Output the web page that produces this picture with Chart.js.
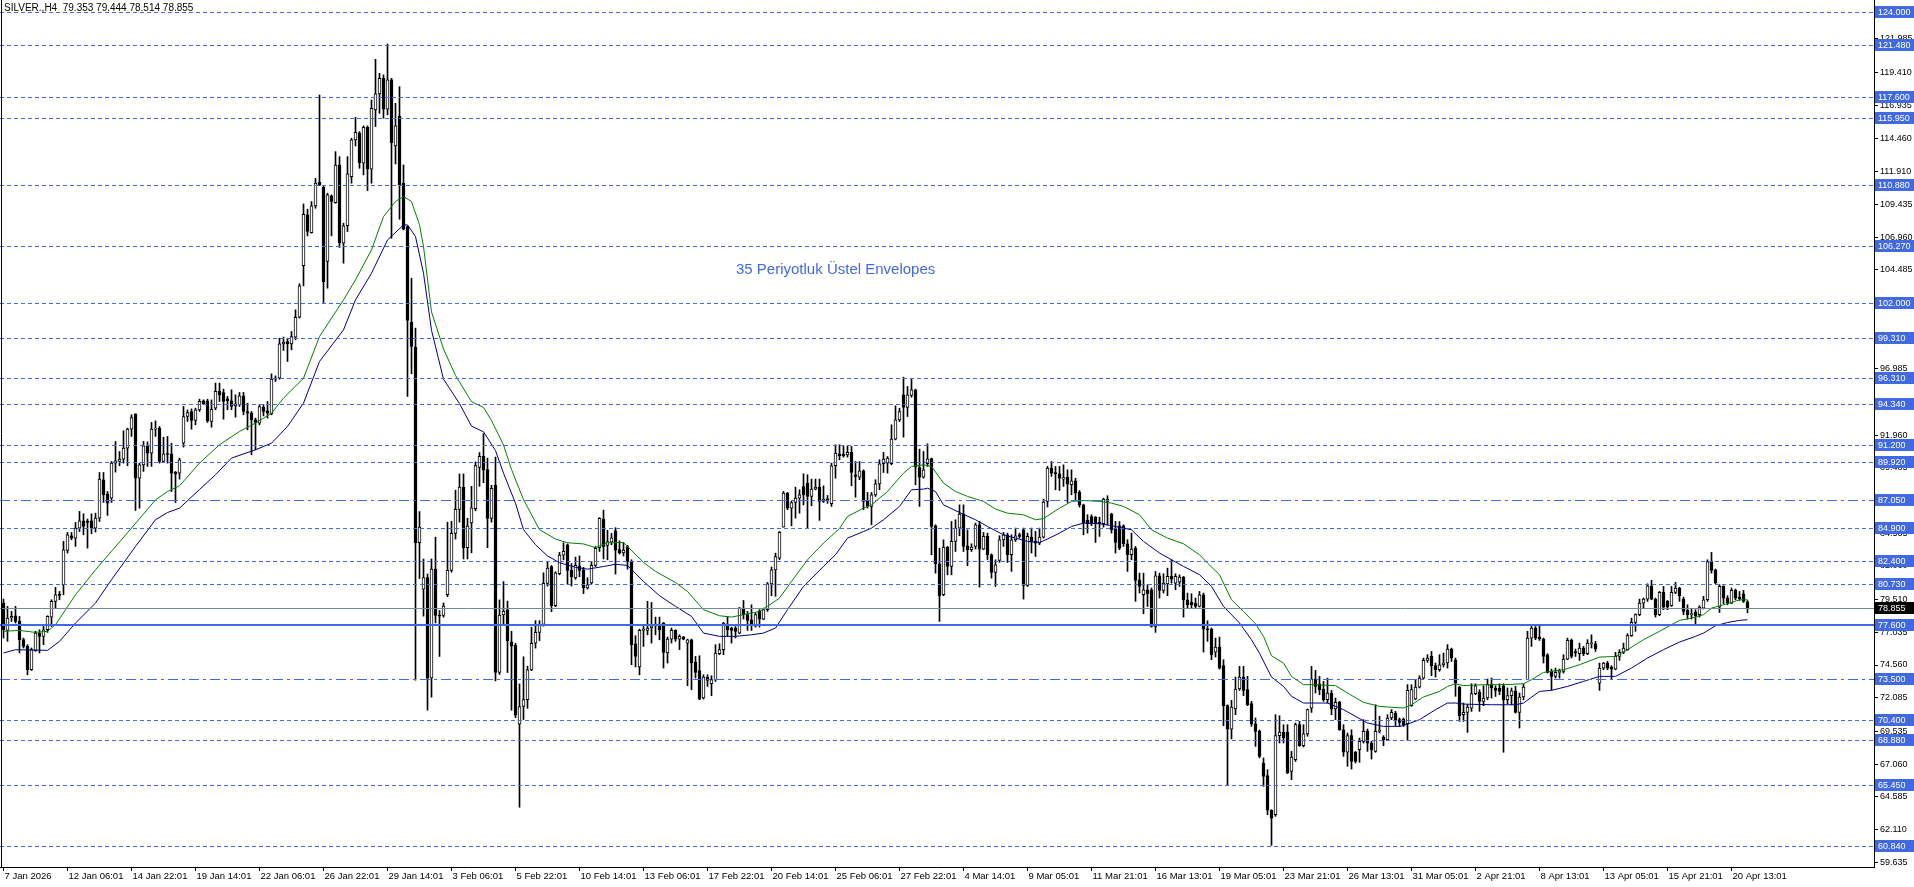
<!DOCTYPE html>
<html>
<head>
<meta charset="utf-8">
<title>SILVER., H4</title>
<script src="https://cdn.jsdelivr.net/npm/chart.js@4.4.1/dist/chart.umd.min.js"></script>
<style>
html, body { margin: 0; padding: 0; background: #ffffff; overflow: hidden; }
canvas { display: block; }
</style>
</head>
<body>
<canvas id="myChart" width="1914" height="887"></canvas>
<script>
// Candle data, H4 bars, index 0 = 7 Jan 2026

var Opens = [
	79.25, 77.18, 78.12, 78.29, 77.86, 76.48, 75.97, 74.20, 75.67, 76.98,
	76.73, 77.23, 78.19, 79.38, 79.93, 80.64, 83.24, 84.35, 84.17, 84.93,
	85.48, 85.43, 85.48, 84.93, 85.68, 88.59, 87.53, 87.20, 89.85, 89.97,
	90.15, 90.98, 92.42, 93.58, 88.71, 89.72, 91.16, 90.60, 92.42, 92.50,
	89.97, 90.55, 90.55, 89.17, 89.09, 91.36, 93.38, 93.76, 93.08, 93.88,
	94.57, 94.57, 93.00, 94.01, 95.28, 95.20, 94.72, 94.57, 94.19, 94.27,
	94.95, 93.76, 93.63, 93.13, 92.88, 94.09, 93.81, 93.58, 96.21, 96.28,
	98.88, 99.06, 98.88, 99.39, 100.90, 104.81, 108.65, 107.31, 109.33, 111.12,
	110.74, 105.12, 110.09, 109.58, 112.43, 106.50, 107.84, 111.55, 114.33, 114.83,
	112.56, 115.28, 112.11, 116.60, 117.81, 118.99, 116.65, 118.87, 113.87, 116.14,
	111.05, 107.77, 100.52, 98.63, 83.82, 80.31, 81.19, 73.56, 81.82, 78.35,
	78.32, 79.88, 81.73, 84.53, 86.35, 88.03, 83.45, 85.33, 86.40, 89.52,
	90.37, 89.37, 85.67, 88.17, 73.99, 78.35, 78.74, 76.32, 76.07, 70.08,
	71.42, 71.94, 74.19, 76.21, 77.03, 77.63, 80.74, 82.02, 79.06, 81.48,
	82.88, 83.67, 81.73, 81.16, 82.05, 81.76, 80.40, 80.77, 82.11, 83.45,
	85.61, 83.62, 83.87, 84.73, 83.30, 83.05, 83.53, 82.41, 76.17, 74.41,
	77.18, 77.18, 77.36, 77.53, 77.66, 77.74, 75.47, 76.52, 77.18, 76.52,
	76.68, 76.22, 76.47, 74.76, 74.13, 72.06, 73.65, 73.14, 73.45, 75.42,
	75.72, 77.66, 77.36, 77.36, 76.98, 78.87, 78.37, 77.99, 77.61, 78.67,
	78.04, 78.75, 80.71, 81.77, 82.66, 85.00, 87.58, 86.44, 86.87, 87.20,
	88.08, 88.33, 87.33, 87.88, 88.03, 86.95, 87.12, 86.77, 89.65, 90.55,
	90.53, 90.48, 90.66, 88.97, 88.79, 89.27, 86.97, 86.57, 87.45, 88.28,
	89.80, 89.85, 89.80, 91.67, 93.13, 95.02, 94.06, 94.97, 95.40, 89.52,
	88.79, 89.80, 90.20, 85.10, 82.23, 79.88, 83.49, 82.03, 83.92, 84.93,
	85.99, 83.59, 83.29, 83.54, 85.18, 83.34, 84.30, 82.91, 81.57, 82.48,
	84.04, 84.42, 82.91, 84.04, 84.42, 84.80, 80.59, 84.25, 83.92, 83.79,
	84.25, 86.95, 89.47, 89.14, 89.04, 88.64, 88.79, 88.21, 88.51, 87.63,
	86.69, 85.51, 85.81, 85.76, 85.36, 85.26, 86.95, 85.99, 84.85, 85.11,
	85.11, 83.74, 82.91, 83.41, 81.02, 79.88, 80.26, 80.26, 77.49, 81.32,
	80.21, 80.71, 81.27, 80.76, 80.84, 81.22, 79.50, 79.30, 79.25, 79.00,
	79.88, 77.28, 77.28, 75.54, 75.92, 74.51, 71.48, 69.71, 71.23, 72.74,
	73.65, 72.69, 71.63, 70.11, 69.54, 67.14, 66.18, 63.56, 63.22, 69.21,
	69.49, 69.49, 66.51, 67.39, 70.04, 68.45, 69.34, 71.30, 73.50, 73.14,
	72.74, 71.93, 72.44, 71.23, 71.73, 69.66, 67.95, 69.21, 67.95, 68.15,
	68.78, 69.53, 68.65, 68.02, 69.53, 69.11, 68.91, 70.55, 70.92, 70.42,
	70.47, 70.12, 71.48, 71.98, 72.89, 73.57, 74.91, 75.21, 74.51, 74.20,
	74.58, 74.71, 75.77, 74.91, 72.89, 70.80, 70.97, 71.30, 72.39, 72.49,
	71.81, 72.06, 73.07, 72.82, 72.82, 72.99, 71.93, 72.24, 72.61, 70.97,
	72.14, 73.45, 76.60, 77.36, 76.68, 76.53, 75.34, 74.08, 73.70, 74.00,
	74.08, 75.01, 76.42, 75.57, 75.42, 75.85, 75.42, 76.17, 76.17, 73.19,
	74.33, 74.71, 74.41, 74.25, 75.21, 75.52, 75.72, 76.78, 77.79, 78.37,
	79.25, 79.55, 80.56, 79.55, 78.37, 80.06, 79.38, 79.05, 80.06, 80.39,
	79.55, 78.70, 78.37, 78.57, 78.37, 78.87, 79.50, 82.40, 81.77, 78.95,
	80.51, 79.63, 79.25, 80.21, 79.70, 79.96, 79.353
];

var Highs = [
	79.55, 79.00, 78.62, 79.00, 78.24, 76.60, 76.10, 75.85, 77.11, 77.23,
	77.48, 78.29, 79.50, 80.44, 80.13, 83.92, 84.60, 84.60, 85.36, 86.19,
	86.01, 85.61, 86.01, 86.06, 89.14, 89.14, 87.70, 89.97, 91.49, 90.73,
	92.30, 92.50, 93.51, 93.58, 89.85, 91.49, 91.46, 92.93, 93.05, 92.62,
	91.82, 91.87, 91.36, 89.22, 90.22, 94.14, 93.88, 93.96, 94.01, 94.69,
	94.64, 94.69, 94.64, 95.91, 95.91, 95.45, 94.90, 95.40, 95.02, 95.20,
	95.20, 94.39, 93.76, 93.26, 94.27, 94.27, 94.52, 96.61, 96.46, 99.31,
	99.39, 99.31, 99.82, 101.46, 103.43, 109.48, 109.08, 109.66, 111.42, 117.73,
	110.84, 110.29, 110.16, 113.44, 113.06, 108.02, 113.06, 114.45, 116.04, 114.96,
	115.39, 115.39, 117.35, 120.43, 119.37, 119.25, 121.59, 118.99, 117.10, 118.36,
	112.43, 107.82, 103.85, 100.07, 86.18, 82.59, 81.45, 82.59, 84.24, 78.69,
	79.26, 85.38, 85.44, 87.80, 89.03, 89.03, 85.67, 88.09, 89.94, 90.65,
	92.08, 90.23, 88.17, 90.31, 79.49, 80.88, 79.40, 77.12, 76.21, 73.13,
	75.18, 74.47, 77.41, 77.92, 77.92, 81.54, 82.39, 82.10, 81.62, 83.10,
	83.82, 83.73, 82.25, 82.73, 82.82, 81.96, 81.17, 82.39, 83.53, 85.72,
	86.29, 84.76, 84.53, 84.96, 83.96, 83.82, 83.62, 82.53, 76.78, 77.28,
	77.48, 79.38, 79.30, 78.19, 78.19, 77.79, 76.68, 77.36, 77.23, 76.85,
	76.73, 76.52, 76.52, 75.21, 75.26, 73.82, 73.82, 73.75, 76.10, 76.17,
	77.79, 78.24, 77.43, 77.48, 78.92, 79.45, 78.62, 79.12, 78.50, 78.75,
	78.87, 80.81, 81.98, 83.03, 84.67, 87.70, 87.63, 86.95, 88.03, 87.83,
	89.04, 88.97, 88.64, 88.64, 88.64, 88.13, 87.40, 89.85, 91.24, 91.24,
	91.16, 91.16, 91.11, 89.97, 89.97, 89.34, 87.63, 87.63, 88.59, 90.10,
	90.66, 90.35, 92.75, 94.19, 94.01, 96.36, 95.65, 96.21, 95.45, 90.91,
	90.73, 91.31, 90.23, 85.18, 83.41, 84.04, 83.54, 85.43, 85.56, 86.69,
	86.69, 84.80, 83.74, 85.31, 85.43, 84.60, 84.55, 82.98, 82.53, 84.35,
	84.60, 84.55, 84.42, 84.93, 84.55, 84.93, 84.55, 84.93, 84.68, 84.93,
	87.12, 89.60, 89.97, 89.60, 89.60, 89.72, 89.34, 89.34, 88.71, 87.78,
	86.74, 85.94, 85.94, 85.81, 85.76, 87.20, 87.38, 86.06, 85.43, 85.43,
	85.18, 84.05, 84.55, 83.54, 81.52, 81.52, 80.64, 80.39, 81.65, 81.52,
	81.47, 81.90, 82.53, 81.47, 81.39, 81.27, 80.01, 79.96, 79.63, 80.13,
	80.01, 77.91, 77.36, 76.60, 76.68, 74.96, 71.55, 71.88, 73.65, 74.46,
	74.46, 73.70, 71.81, 70.55, 69.64, 67.52, 66.63, 63.60, 70.80, 70.72,
	70.04, 70.04, 68.02, 70.17, 70.29, 70.04, 71.23, 74.46, 74.15, 73.70,
	73.32, 73.57, 72.64, 72.06, 71.81, 70.04, 69.41, 69.66, 68.02, 69.03,
	70.42, 69.71, 68.78, 71.55, 70.67, 69.21, 70.80, 71.18, 71.05, 70.55,
	70.55, 73.07, 73.07, 73.45, 73.75, 75.09, 75.34, 75.59, 74.71, 75.34,
	75.47, 76.10, 75.84, 75.09, 72.94, 71.68, 71.55, 73.14, 73.14, 72.69,
	72.99, 73.50, 73.57, 72.99, 73.14, 73.14, 72.82, 72.82, 72.94, 72.44,
	73.14, 77.11, 77.48, 77.48, 77.54, 76.60, 75.42, 74.25, 74.33, 74.25,
	75.34, 76.60, 76.53, 75.77, 76.22, 75.97, 76.48, 76.85, 76.35, 74.71,
	74.76, 74.84, 74.51, 75.52, 75.72, 76.22, 76.93, 78.11, 78.44, 79.55,
	79.63, 80.71, 80.97, 79.63, 80.13, 80.51, 79.45, 80.51, 80.82, 80.45,
	79.70, 79.12, 78.80, 78.75, 79.05, 79.76, 82.53, 83.09, 81.83, 80.64,
	80.56, 79.81, 80.39, 80.31, 80.13, 80.21, 79.444
];

var Lows = [
	76.60, 76.35, 77.86, 77.74, 75.47, 75.85, 73.82, 74.15, 75.59, 75.47,
	76.10, 77.03, 77.48, 78.87, 79.50, 79.88, 83.04, 84.04, 83.54, 84.67,
	84.42, 83.41, 84.50, 84.63, 85.43, 86.87, 85.89, 86.87, 89.17, 89.65,
	89.85, 89.65, 91.87, 86.26, 86.44, 89.22, 89.60, 89.60, 91.87, 89.85,
	89.90, 89.85, 87.70, 86.87, 88.64, 91.06, 93.00, 92.42, 92.75, 93.76,
	94.27, 92.93, 92.57, 93.89, 94.52, 93.18, 93.89, 93.89, 93.33, 94.14,
	93.51, 92.37, 90.48, 90.86, 92.75, 93.43, 93.26, 93.51, 96.03, 96.21,
	98.38, 97.55, 98.43, 99.19, 100.83, 103.27, 107.06, 107.26, 109.15, 110.87,
	102.01, 103.10, 107.06, 109.53, 106.18, 104.99, 107.39, 111.05, 113.87, 112.18,
	111.68, 110.49, 111.05, 115.34, 116.34, 115.97, 116.22, 106.88, 112.51, 108.32,
	107.51, 94.90, 96.61, 73.42, 81.11, 78.26, 71.14, 72.13, 77.75, 75.21,
	78.18, 79.74, 81.59, 84.10, 85.38, 82.59, 82.59, 83.05, 86.24, 88.09,
	88.37, 83.45, 85.38, 73.36, 73.84, 77.55, 73.99, 71.14, 70.57, 63.79,
	70.43, 71.28, 74.13, 75.84, 76.41, 77.50, 80.54, 78.60, 78.97, 81.39,
	82.53, 80.68, 80.54, 81.05, 81.25, 79.97, 80.31, 80.68, 82.02, 83.16,
	82.59, 82.53, 83.67, 81.45, 82.96, 82.82, 81.82, 74.58, 74.41, 73.82,
	75.97, 76.85, 76.22, 76.85, 76.47, 74.33, 74.71, 76.22, 76.35, 75.72,
	76.47, 72.99, 72.69, 73.57, 71.93, 71.98, 72.94, 72.24, 73.32, 75.34,
	75.34, 76.73, 76.22, 76.61, 76.93, 78.04, 77.18, 77.18, 77.43, 77.43,
	77.99, 78.62, 79.81, 79.76, 82.53, 85.00, 86.32, 85.10, 85.69, 86.06,
	86.69, 84.93, 86.62, 87.83, 85.51, 86.87, 86.80, 86.57, 88.71, 90.10,
	90.30, 90.30, 88.13, 87.27, 88.59, 86.32, 86.44, 85.18, 87.33, 87.83,
	89.14, 89.09, 89.72, 91.61, 93.00, 91.82, 93.38, 94.84, 88.21, 86.57,
	88.71, 89.60, 82.91, 81.52, 77.86, 79.80, 81.39, 81.39, 83.16, 84.35,
	83.16, 82.08, 83.16, 83.34, 80.46, 83.29, 82.53, 81.14, 80.51, 82.33,
	83.54, 82.33, 81.65, 83.92, 84.17, 79.55, 80.51, 83.04, 82.78, 83.67,
	84.17, 86.52, 88.84, 87.83, 87.78, 88.08, 86.87, 87.45, 87.02, 86.52,
	84.42, 84.55, 85.11, 83.84, 84.30, 85.00, 85.18, 84.55, 83.04, 83.29,
	83.54, 81.65, 82.53, 79.38, 80.01, 78.44, 79.00, 77.43, 77.03, 79.63,
	80.01, 79.81, 80.76, 80.26, 80.51, 78.19, 78.87, 78.87, 78.87, 78.95,
	75.54, 76.35, 74.96, 75.16, 74.25, 69.96, 65.42, 68.96, 70.80, 72.64,
	72.24, 71.48, 69.91, 68.40, 67.52, 65.37, 63.22, 60.90, 63.10, 68.65,
	68.65, 66.33, 65.88, 67.26, 68.40, 68.35, 69.16, 70.97, 72.44, 72.31,
	71.81, 71.68, 70.80, 70.42, 69.61, 67.64, 66.89, 66.68, 67.14, 67.19,
	68.65, 68.02, 67.44, 67.95, 69.41, 68.45, 68.85, 70.42, 69.97, 69.91,
	69.91, 68.85, 71.43, 71.93, 72.82, 73.50, 74.76, 73.75, 73.65, 74.08,
	74.41, 74.33, 74.83, 72.19, 70.29, 70.29, 69.46, 71.05, 72.31, 71.05,
	71.48, 71.93, 72.06, 72.18, 72.31, 67.95, 71.63, 71.55, 70.92, 69.79,
	71.93, 73.45, 75.97, 76.48, 76.42, 74.71, 73.95, 72.69, 73.57, 73.57,
	73.95, 74.96, 75.09, 75.21, 74.91, 75.27, 75.34, 75.85, 75.59, 72.64,
	74.20, 74.20, 73.50, 74.20, 74.91, 75.42, 75.67, 76.73, 77.11, 78.29,
	78.87, 79.38, 79.50, 78.19, 78.29, 78.75, 78.75, 79.00, 79.96, 79.38,
	78.37, 78.04, 78.04, 77.61, 78.19, 78.80, 79.38, 81.52, 80.72, 78.54,
	79.20, 79.12, 79.20, 79.50, 79.45, 79.30, 78.514
];

var Closes = [
	77.23, 78.12, 78.24, 77.86, 76.48, 75.97, 74.20, 75.72, 76.98, 76.73,
	77.23, 78.24, 79.38, 79.88, 79.83, 83.29, 84.42, 84.17, 84.93, 85.48,
	85.05, 85.36, 84.93, 85.68, 88.64, 87.45, 86.82, 89.85, 90.02, 90.15,
	90.98, 92.42, 93.30, 88.71, 89.72, 91.16, 90.60, 92.42, 92.50, 89.97,
	90.55, 90.50, 89.09, 89.02, 90.10, 93.38, 93.68, 93.08, 93.88, 94.52,
	94.34, 93.05, 93.93, 95.28, 95.02, 94.52, 94.57, 94.14, 94.34, 94.95,
	93.76, 93.63, 93.13, 92.93, 94.14, 93.76, 93.63, 96.21, 96.28, 98.88,
	99.01, 98.88, 99.44, 100.90, 103.27, 108.70, 107.39, 109.33, 111.05, 110.92,
	103.60, 110.16, 109.66, 112.43, 106.55, 107.82, 111.75, 114.33, 114.91, 112.61,
	115.28, 112.11, 116.72, 117.81, 118.99, 116.65, 118.87, 114.12, 115.39, 110.92,
	107.56, 100.65, 98.68, 83.82, 85.01, 81.19, 73.56, 81.82, 78.32, 78.26,
	79.03, 81.73, 84.53, 86.35, 88.03, 83.45, 85.10, 86.47, 89.66, 90.37,
	89.31, 85.67, 87.95, 73.99, 78.35, 78.63, 76.41, 75.98, 70.77, 71.42,
	71.94, 74.19, 76.21, 77.03, 77.63, 80.74, 81.91, 79.06, 81.54, 82.88,
	83.16, 81.73, 81.25, 82.11, 81.73, 80.40, 80.63, 82.11, 83.39, 85.67,
	83.53, 83.90, 84.19, 83.25, 83.05, 83.27, 82.39, 76.10, 75.21, 77.18,
	77.20, 77.36, 77.53, 77.61, 77.23, 75.52, 76.52, 77.18, 76.52, 76.73,
	76.52, 76.47, 74.71, 74.00, 71.98, 73.65, 73.40, 73.45, 75.47, 75.72,
	77.74, 77.23, 77.18, 77.11, 78.87, 78.37, 77.94, 77.61, 78.37, 78.04,
	78.75, 80.71, 81.77, 82.78, 84.60, 87.58, 86.44, 86.87, 87.20, 87.45,
	87.45, 87.33, 87.88, 88.03, 86.95, 87.12, 87.07, 89.65, 90.61, 90.40,
	90.40, 90.66, 89.14, 88.84, 89.27, 86.95, 86.57, 87.45, 88.28, 89.80,
	90.15, 90.23, 91.67, 93.13, 93.76, 94.06, 95.02, 95.40, 89.55, 88.79,
	89.34, 90.18, 85.05, 82.23, 79.80, 83.49, 82.03, 83.92, 84.93, 85.99,
	83.54, 83.29, 83.49, 85.18, 83.34, 84.30, 82.91, 81.57, 82.15, 84.04,
	84.42, 82.91, 84.04, 84.35, 84.30, 80.59, 84.30, 83.87, 83.79, 84.25,
	86.90, 89.47, 89.09, 89.04, 88.71, 88.76, 88.26, 88.51, 87.58, 86.69,
	85.31, 85.26, 85.31, 85.26, 85.26, 87.12, 87.12, 84.80, 83.84, 83.41,
	83.74, 82.91, 83.34, 80.97, 80.51, 80.26, 79.96, 77.49, 81.32, 80.21,
	80.76, 81.27, 81.07, 81.27, 81.22, 79.50, 79.13, 79.13, 79.00, 79.88,
	77.28, 77.23, 75.34, 75.92, 74.33, 71.48, 69.71, 71.38, 72.74, 73.65,
	72.64, 71.55, 70.11, 69.54, 67.64, 66.13, 63.56, 62.97, 69.21, 69.49,
	69.03, 66.38, 67.59, 70.04, 68.45, 69.34, 71.18, 73.50, 72.94, 72.69,
	71.93, 72.44, 71.23, 71.73, 69.66, 67.95, 69.21, 67.26, 67.26, 68.78,
	69.53, 68.65, 68.15, 69.53, 69.59, 68.91, 70.55, 70.97, 70.42, 70.22,
	70.04, 72.64, 72.69, 72.89, 73.57, 74.91, 75.09, 74.51, 74.20, 74.58,
	74.71, 75.77, 75.09, 73.19, 70.72, 70.97, 71.38, 72.39, 72.99, 71.81,
	72.06, 73.07, 72.82, 72.64, 72.56, 71.93, 72.24, 72.61, 70.97, 72.14,
	72.89, 76.60, 77.36, 76.60, 76.53, 75.21, 74.00, 73.70, 74.00, 74.08,
	75.01, 76.42, 75.21, 75.47, 75.85, 75.42, 76.22, 76.22, 75.77, 74.33,
	74.71, 74.33, 74.25, 75.21, 75.52, 75.85, 76.78, 77.79, 78.37, 79.25,
	79.55, 80.56, 79.55, 78.37, 80.06, 78.95, 78.95, 80.06, 80.39, 79.81,
	78.62, 78.37, 78.42, 78.29, 78.95, 79.50, 82.40, 81.72, 80.77, 80.51,
	79.63, 79.25, 80.21, 79.63, 79.58, 79.38, 78.855
];

// 35 period exponential envelopes at sample bars
var UpperBars = [
	0, 4, 8, 11, 13, 18, 23, 32, 38, 41, 44, 49, 54, 59, 63, 67, 70, 75, 79, 85,
	88, 92, 95, 98, 100, 102, 104, 105, 107, 110, 113, 117, 120, 122, 125, 127, 130, 134, 138, 141,
	145, 148, 151, 155, 160, 163, 168, 171, 175, 179, 182, 185, 189, 191, 194, 197, 201, 205, 209, 211,
	215, 217, 221, 225, 227, 230, 232, 235, 238, 241, 245, 248, 251, 255, 258, 260, 264, 267, 270, 274,
	277, 280, 284, 287, 291, 295, 299, 301, 304, 307, 310, 313, 315, 317, 320, 322, 325, 328, 333, 336,
	340, 344, 346, 350, 352, 355, 359, 361, 363, 365, 370, 375, 380, 382, 385, 390, 394, 399, 403, 406,
	410, 414, 417, 419, 422, 425, 427, 430, 432, 434, 436
];
var UpperVals = [
	77.11, 77.18, 77.03, 77.11, 77.61, 79.88, 81.77, 84.93, 87.07, 87.70, 88.13, 89.85, 91.24, 92.25, 92.88, 93.63, 94.77, 96.28, 99.44, 102.21,
	103.73, 106.00, 108.52, 109.66, 110.04, 109.66, 107.90, 106.25, 101.30, 98.49, 96.49, 94.50, 94.07, 93.07, 91.22, 89.37, 87.09, 84.81, 84.10, 83.82,
	83.73, 83.45, 83.82, 83.84, 82.33, 81.65, 80.81, 80.13, 78.75, 78.29, 78.19, 78.37, 78.62, 79.00, 79.63, 80.89, 82.53, 83.79, 84.90, 85.81,
	86.44, 86.69, 87.70, 89.09, 89.60, 89.72, 89.60, 88.34, 87.70, 87.33, 86.95, 86.37, 86.06, 85.94, 85.56, 85.65, 86.44, 86.95, 87.02, 86.95,
	86.82, 86.57, 85.94, 84.80, 84.17, 83.74, 82.91, 82.28, 81.40, 79.50, 78.62, 77.68, 76.73, 75.26, 74.71, 73.70, 73.07, 73.07, 73.00, 72.44,
	71.73, 71.43, 71.38, 71.30, 71.55, 72.14, 72.56, 72.94, 73.14, 73.00, 73.07, 73.07, 73.14, 73.45, 74.00, 74.20, 74.58, 75.16, 75.21, 75.72,
	76.48, 77.11, 77.61, 77.94, 78.11, 78.37, 78.87, 79.12, 79.30, 79.50, 79.50
];

var LowerBars = [
	0, 3, 11, 14, 18, 23, 27, 33, 38, 41, 44, 49, 53, 57, 63, 67, 71, 75, 79, 85,
	88, 92, 96, 100, 101, 103, 105, 107, 110, 114, 117, 120, 123, 125, 128, 130, 133, 136, 139, 143,
	146, 150, 153, 156, 160, 164, 168, 172, 175, 179, 183, 187, 190, 193, 196, 200, 205, 208, 211, 215,
	217, 220, 224, 227, 230, 231, 233, 235, 239, 243, 246, 250, 253, 256, 259, 261, 264, 267, 270, 274,
	277, 282, 285, 289, 292, 295, 299, 302, 305, 309, 312, 314, 317, 320, 322, 325, 328, 331, 335, 338,
	341, 345, 349, 350, 354, 358, 361, 363, 365, 372, 378, 380, 384, 387, 391, 395, 399, 403, 407, 411,
	415, 419, 423, 425, 428, 431, 434, 436
];
var LowerVals = [
	75.47, 75.72, 75.67, 76.35, 77.74, 79.25, 81.02, 83.54, 85.56, 86.11, 86.44, 87.85, 88.97, 90.23, 90.86, 91.36, 92.63, 94.39, 97.55, 99.94,
	102.21, 104.23, 106.75, 107.89, 107.89, 107.01, 104.23, 99.91, 96.21, 94.36, 92.65, 92.22, 90.80, 89.09, 86.81, 84.81, 83.67, 82.82, 82.31, 81.96,
	81.82, 82.02, 82.19, 82.10, 80.89, 79.81, 79.00, 78.24, 76.98, 76.73, 76.73, 76.85, 76.98, 77.36, 78.75, 80.51, 82.03, 82.91, 84.17, 84.67,
	84.93, 85.56, 86.57, 87.83, 87.88, 87.95, 87.70, 86.69, 86.11, 85.56, 85.05, 84.42, 84.17, 83.92, 83.84, 84.10, 84.55, 85.05, 85.31, 85.26,
	85.11, 84.80, 83.92, 83.04, 82.53, 82.03, 81.40, 80.51, 79.00, 77.74, 76.47, 75.45, 73.65, 72.94, 72.19, 71.68, 71.68, 71.68, 71.18, 70.67,
	70.17, 69.91, 69.91, 69.97, 70.42, 71.18, 71.68, 71.68, 71.60, 71.55, 71.55, 71.68, 72.56, 72.64, 72.94, 73.32, 73.70, 73.70, 74.33, 75.09,
	75.72, 76.30, 76.73, 76.98, 77.53, 77.78, 77.94, 77.99
];

// Horizontal levels drawn on the chart
var Levels = [124.000, 121.480, 117.600, 115.950, 110.880, 106.270, 102.000, 99.310, 96.310, 94.340, 91.200,
	89.920, 87.050, 84.900, 82.400, 80.730, 77.600, 73.500, 70.400, 68.880, 65.450, 60.840];
var LevelStyles = ["dash", "dash", "dash", "dash", "dash", "dash", "dash", "dash", "dash", "dash", "dash",
	"dash", "dashdot", "dash", "dash", "dash", "solid", "dashdot", "dash", "dash", "dash", "dash"];
var BidPrice = 78.855;

var PriceTicks = [59.635, 62.110, 64.585, 67.060, 69.535, 72.085, 74.560, 77.035, 79.510, 82.060, 84.535, 87.010,
	89.485, 91.960, 94.435, 96.985, 99.460, 101.935, 104.485, 106.960, 109.435, 111.910, 114.460, 116.935, 119.410, 121.985];

var TimeTickBars = [0, 16, 32, 48, 64, 80, 96, 112, 128, 144, 160, 176, 192, 208, 224, 240, 256, 272, 288, 304, 320, 336, 352, 368, 384, 400, 416, 432];
var TimeTickLabels = ["7 Jan 2026", "12 Jan 06:01", "14 Jan 22:01", "19 Jan 14:01", "22 Jan 06:01", "26 Jan 22:01", "29 Jan 14:01",
	"3 Feb 06:01", "5 Feb 22:01", "10 Feb 14:01", "13 Feb 06:01", "17 Feb 22:01", "20 Feb 14:01", "25 Feb 06:01", "27 Feb 22:01",
	"4 Mar 14:01", "9 Mar 05:01", "11 Mar 21:01", "16 Mar 13:01", "19 Mar 05:01", "23 Mar 21:01", "26 Mar 13:01", "31 Mar 05:01",
	"2 Apr 21:01", "8 Apr 13:01", "13 Apr 05:01", "15 Apr 21:01", "20 Apr 13:01"];

var HeaderText = "SILVER.,H4  79.353 79.444 78.514 78.855";
var IndicatorText = "35 Periyotluk \u00dcstel Envelopes";

var LevelBlue = "#4169e1";
var AxisFont = "Liberation Sans";

// Build chart data

var BodyData = [];
var WickData = [];
var BodyColors = [];
for (var i = 0; i < Opens.length; i++) {
	BodyData.push({x: i, y: [Opens[i], Closes[i]]});
	WickData.push({x: i, y: [Lows[i], Highs[i]]});
	BodyColors.push(Closes[i] >= Opens[i] ? "#ffffff" : "#000000");
}
var UpperData = [];
for (var u = 0; u < UpperBars.length; u++) UpperData.push({x: UpperBars[u], y: UpperVals[u]});
var LowerData = [];
for (var l = 0; l < LowerBars.length; l++) LowerData.push({x: LowerBars[l], y: LowerVals[l]});

function dash_for(style) {
	if (style == "dash") return [4, 3];
	if (style == "dashdot") return [10, 4, 3, 4];
	return [];
}

var overlayPlugin = {
	id: "overlay",
	beforeDraw: function(chart) {
		var ctx = chart.ctx;
		ctx.save();
		ctx.fillStyle = "#ffffff";
		ctx.fillRect(0, 0, chart.width, chart.height);
		ctx.restore();
	},
	afterDatasetsDraw: function(chart) {
		var ctx = chart.ctx;
		var area = chart.chartArea;
		var yS = chart.scales.y;
		ctx.save();
		ctx.beginPath();
		ctx.rect(area.left, area.top, area.right - area.left, area.bottom - area.top);
		ctx.clip();
		// bid line
		var by = Math.round(yS.getPixelForValue(BidPrice)) + 0.5;
		ctx.strokeStyle = "#778899";
		ctx.lineWidth = 1;
		ctx.setLineDash([]);
		ctx.beginPath();
		ctx.moveTo(area.left, by);
		ctx.lineTo(area.right, by);
		ctx.stroke();
		// level lines
		for (var k = 0; k < Levels.length; k++) {
			var py = yS.getPixelForValue(Levels[k]);
			ctx.strokeStyle = LevelBlue;
			if (LevelStyles[k] == "solid") {
				ctx.lineWidth = 2;
				py = Math.round(py);
			} else {
				ctx.lineWidth = 1;
				py = Math.round(py) + 0.5;
			}
			ctx.setLineDash(dash_for(LevelStyles[k]));
			ctx.beginPath();
			ctx.moveTo(area.left, py);
			ctx.lineTo(area.right, py);
			ctx.stroke();
		}
		ctx.setLineDash([]);
		ctx.fillStyle = LevelBlue;
		ctx.font = "15px '" + AxisFont + "'";
		ctx.textBaseline = "middle";
		ctx.textAlign = "left";
		ctx.fillText(IndicatorText, 736, 270);
		ctx.fillStyle = "#000000";
		ctx.font = "10px '" + AxisFont + "'";
		ctx.fillText(HeaderText, 4, 8);
		ctx.restore();
	},
	afterDraw: function(chart) {
		var ctx = chart.ctx;
		var area = chart.chartArea;
		var yS = chart.scales.y;
		ctx.save();
		// left edge of the chart frame
		ctx.strokeStyle = "#000000";
		ctx.lineWidth = 1;
		ctx.beginPath();
		ctx.moveTo(1.5, area.bottom);
		ctx.lineTo(1.5, area.top);
		ctx.stroke();
		// price boxes on the axis
		ctx.font = "9px '" + AxisFont + "'";
		ctx.textBaseline = "middle";
		ctx.textAlign = "left";
		for (var k = 0; k < Levels.length; k++) {
			var py = Math.round(yS.getPixelForValue(Levels[k]));
			ctx.fillStyle = LevelBlue;
			ctx.fillRect(area.right + 1, py - 6, 39, 12);
			ctx.fillStyle = "#ffffff";
			ctx.fillText(Levels[k].toFixed(3), area.right + 4, py + 0.5);
		}
		var bp = Math.round(yS.getPixelForValue(BidPrice));
		ctx.fillStyle = "#000000";
		ctx.fillRect(area.right + 1, bp - 6, 39, 12);
		ctx.fillStyle = "#ffffff";
		ctx.fillText(BidPrice.toFixed(3), area.right + 4, bp + 0.5);
		ctx.restore();
	}
};

var Ctxt = document.getElementById("myChart").getContext("2d");

var ChartInst = new Chart(Ctxt, {
	type: "bar",
	data: {
		datasets: [{
			type: "line",
			label: "upper",
			data: UpperData,
			borderColor: "#008000",
			borderWidth: 1,
			pointRadius: 0,
			fill: false,
			order: 1
			},
			{
			type: "line",
			label: "lower",
			data: LowerData,
			borderColor: "#000080",
			borderWidth: 1,
			pointRadius: 0,
			fill: false,
			order: 1
			},
			{
			label: "body",
			data: BodyData,
			backgroundColor: BodyColors,
			borderColor: "#000000",
			borderWidth: 1,
			borderSkipped: false,
			barThickness: 3,
			minBarLength: 1,
			grouped: false,
			order: 2
			},
			{
			label: "wick",
			data: WickData,
			backgroundColor: "#000000",
			borderWidth: 0,
			barThickness: 1,
			minBarLength: 1,
			grouped: false,
			order: 3
			}]
		},
	options: {
		responsive: false,
		devicePixelRatio: 1,
		animation: false,
		layout: { padding: 0 },
		plugins: {
			legend: { display: false },
			tooltip: { enabled: false }
			},
		scales: {
			x: {
				type: "linear",
				position: "bottom",
				offset: false,
				min: -0.875,
				max: 467.625,
				grid: { display: true, offset: false, drawOnChartArea: false, drawTicks: true, tickLength: 4, color: "#000000" },
				border: { display: true, color: "#000000" },
				ticks: {
					autoSkip: false,
					maxRotation: 0,
					align: "start",
					labelOffset: 1,
					padding: 0,
					color: "#000000",
					font: { family: AxisFont, size: 9.5 },
					callback: function(v, idx) { return TimeTickLabels[idx]; }
					},
				afterBuildTicks: function(s) {
					s.ticks = TimeTickBars.map(function(b) { return {value: b}; });
					},
				afterFit: function(s) {
					s.height = 20;
					s.paddingLeft = 0;
					s.paddingRight = 0;
					}
				},
			y: {
				type: "linear",
				position: "right",
				min: 59.263,
				max: 124.923,
				grid: { display: true, drawOnChartArea: false, drawTicks: true, tickLength: 4, color: "#000000" },
				border: { display: true, color: "#000000" },
				ticks: {
					padding: 2,
					color: "#000000",
					font: { family: AxisFont, size: 9 },
					callback: function(v) { return Number(v).toFixed(3); }
					},
				afterBuildTicks: function(s) {
					s.ticks = PriceTicks.map(function(p) { return {value: p}; });
					},
				afterFit: function(s) {
					s.width = 40;
					s.paddingTop = 0;
					s.paddingBottom = 0;
					}
				}
			}
		},
	plugins: [overlayPlugin]
});
</script>
</body>
</html>
